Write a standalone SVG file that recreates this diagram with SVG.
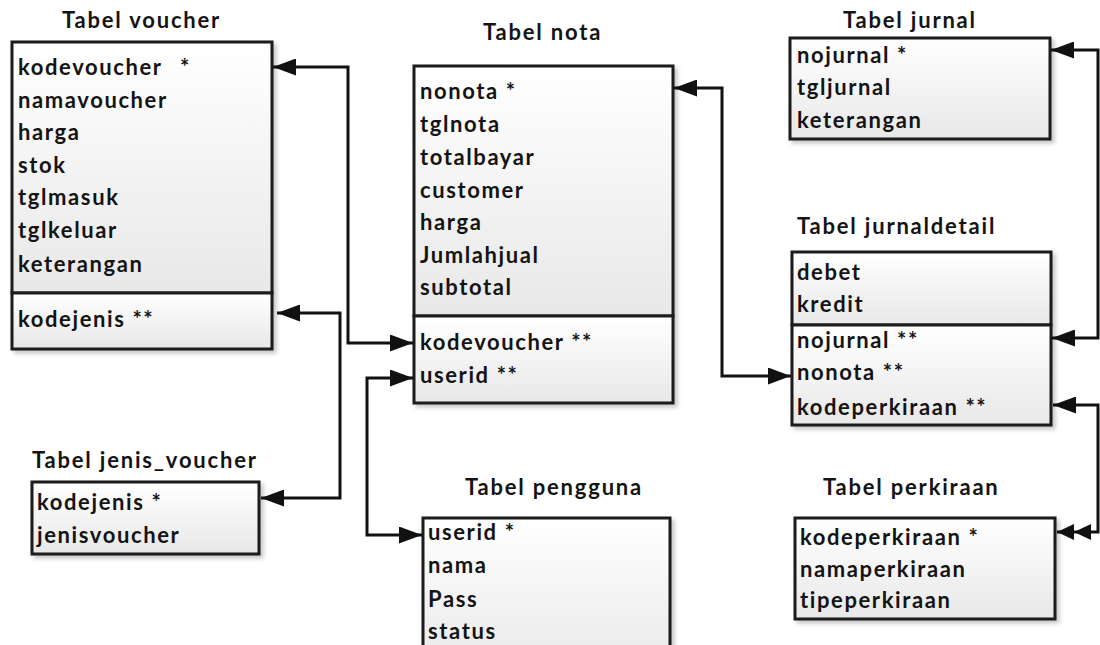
<svg xmlns="http://www.w3.org/2000/svg" width="1100" height="645" viewBox="0 0 1100 645">
<style>
  .box { stroke: #1a1a1a; stroke-width: 3; fill: url(#g); }
  .t { font-family: Lato, "Liberation Sans", sans-serif; font-weight: 700; font-size: 22px; fill: #141414; letter-spacing: 1.6px; }
  .title { font-family: Lato, "Liberation Sans", sans-serif; font-weight: 700; font-size: 22px; fill: #141414; letter-spacing: 1.8px; }
  .conn { fill: none; stroke: #111; stroke-width: 3; }
</style>
<defs>
  <linearGradient id="g" x1="0" y1="0" x2="0" y2="1">
    <stop offset="0" stop-color="#ffffff"/>
    <stop offset="1" stop-color="#e8e8e8"/>
  </linearGradient>
  <filter id="sh" x="-5%" y="-5%" width="115%" height="115%">
    <feDropShadow dx="3" dy="3" stdDeviation="2" flood-color="#000" flood-opacity="0.22"/>
  </filter>
  <marker id="ah" viewBox="0 0 23 17" refX="23" refY="8.5" markerWidth="23" markerHeight="17" markerUnits="userSpaceOnUse" orient="auto-start-reverse">
    <path d="M0,0 L23,8.5 L0,17 Z" fill="#111"/>
  </marker>
  <marker id="ah2" viewBox="0 0 34 16" refX="34" refY="8" markerWidth="34" markerHeight="16" markerUnits="userSpaceOnUse" orient="auto-start-reverse">
    <path d="M0,0 L17,8 L0,16 Z M17,0 L34,8 L17,16 Z" fill="#111"/>
  </marker>
</defs>
<rect width="1100" height="645" fill="#ffffff"/>

<g id="connectors">
  <path class="conn" d="M273,67 H348 V343 H413" marker-start="url(#ah)" marker-end="url(#ah)"/>
  <path class="conn" d="M277,313 H340 V498 H261" marker-start="url(#ah)" marker-end="url(#ah)"/>
  <path class="conn" d="M413,378 H367 V535 H422" marker-start="url(#ah)" marker-end="url(#ah)"/>
  <path class="conn" d="M674,88 H722 V376 H791" marker-start="url(#ah)" marker-end="url(#ah)"/>
  <path class="conn" d="M1051,50 H1098 V338 H1052" marker-start="url(#ah)" marker-end="url(#ah)"/>
  <path class="conn" d="M1053,405 H1098 V532 H1057" marker-start="url(#ah)" marker-end="url(#ah2)"/>
</g>

<g id="tabel-voucher">
  <text class="title" x="62" y="28">Tabel voucher</text>
  <g filter="url(#sh)">
    <rect class="box" x="12" y="42" width="260" height="251"/>
    <rect class="box" x="12" y="293" width="260" height="56"/>
  </g>
  <text class="t" x="18" y="75">kodevoucher<tspan x="180">*</tspan></text>
  <text class="t" x="18" y="108">namavoucher</text>
  <text class="t" x="18" y="140">harga</text>
  <text class="t" x="18" y="173">stok</text>
  <text class="t" x="18" y="205">tglmasuk</text>
  <text class="t" x="18" y="238">tglkeluar</text>
  <text class="t" x="18" y="272">keterangan</text>
  <text class="t" x="18" y="327">kodejenis **</text>
</g>

<g id="tabel-nota">
  <text class="title" x="483" y="40">Tabel nota</text>
  <g filter="url(#sh)">
    <rect class="box" x="414" y="66" width="259" height="250"/>
    <rect class="box" x="414" y="316" width="259" height="87"/>
  </g>
  <text class="t" x="420" y="99">nonota *</text>
  <text class="t" x="420" y="132">tglnota</text>
  <text class="t" x="420" y="165">totalbayar</text>
  <text class="t" x="420" y="198">customer</text>
  <text class="t" x="420" y="230">harga</text>
  <text class="t" x="420" y="263">Jumlahjual</text>
  <text class="t" x="420" y="295">subtotal</text>
  <text class="t" x="420" y="350">kodevoucher **</text>
  <text class="t" x="420" y="383">userid **</text>
</g>

<g id="tabel-jurnal">
  <text class="title" x="843" y="28">Tabel jurnal</text>
  <rect class="box" x="790" y="38" width="260" height="101" filter="url(#sh)"/>
  <text class="t" x="797" y="63">nojurnal *</text>
  <text class="t" x="797" y="95">tgljurnal</text>
  <text class="t" x="797" y="128">keterangan</text>
</g>

<g id="tabel-jurnaldetail">
  <text class="title" x="797" y="234">Tabel jurnaldetail</text>
  <g filter="url(#sh)">
    <rect class="box" x="792" y="252" width="259" height="73"/>
    <rect class="box" x="792" y="325" width="259" height="100"/>
  </g>
  <text class="t" x="797" y="280">debet</text>
  <text class="t" x="797" y="312">kredit</text>
  <text class="t" x="797" y="348">nojurnal **</text>
  <text class="t" x="797" y="380">nonota **</text>
  <text class="t" x="797" y="415">kodeperkiraan **</text>
</g>

<g id="tabel-jenis-voucher">
  <text class="title" x="32" y="468">Tabel jenis_voucher</text>
  <rect class="box" x="32" y="482" width="227" height="72" filter="url(#sh)"/>
  <text class="t" x="37" y="510">kodejenis *</text>
  <text class="t" x="37" y="543">jenisvoucher</text>
</g>

<g id="tabel-pengguna">
  <text class="title" x="465" y="495">Tabel pengguna</text>
  <rect class="box" x="423" y="518" width="247" height="160" filter="url(#sh)"/>
  <text class="t" x="428" y="540">userid *</text>
  <text class="t" x="428" y="573">nama</text>
  <text class="t" x="428" y="607">Pass</text>
  <text class="t" x="428" y="639">status</text>
</g>

<g id="tabel-perkiraan">
  <text class="title" x="823" y="495">Tabel perkiraan</text>
  <rect class="box" x="795" y="518" width="260" height="101" filter="url(#sh)"/>
  <text class="t" x="800" y="545">kodeperkiraan *</text>
  <text class="t" x="800" y="577">namaperkiraan</text>
  <text class="t" x="800" y="608">tipeperkiraan</text>
</g>
</svg>
